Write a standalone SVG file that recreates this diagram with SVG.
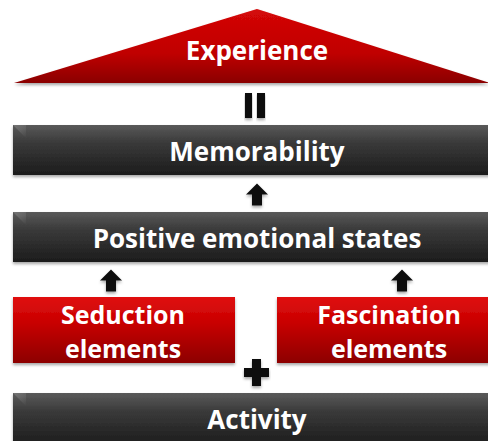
<svg xmlns="http://www.w3.org/2000/svg" width="488" height="441" viewBox="0 0 488 441">
  <defs>
    <linearGradient id="dark" x1="0" y1="0" x2="0" y2="1">
      <stop offset="0" stop-color="#5a5a5a"/>
      <stop offset="0.35" stop-color="#3a3a3a"/>
      <stop offset="1" stop-color="#1c1c1c"/>
    </linearGradient>
    <linearGradient id="red" x1="0" y1="0" x2="0" y2="1">
      <stop offset="0" stop-color="#e01010"/>
      <stop offset="0.4" stop-color="#c80000"/>
      <stop offset="1" stop-color="#8c0000"/>
    </linearGradient>
    <linearGradient id="roof" x1="0" y1="0" x2="0" y2="1">
      <stop offset="0" stop-color="#d40808"/>
      <stop offset="0.6" stop-color="#c00000"/>
      <stop offset="1" stop-color="#8a0000"/>
    </linearGradient>
    <linearGradient id="bevelGrad" x1="0" y1="0" x2="1" y2="1">
      <stop offset="0" stop-color="#8a8a8a" stop-opacity="0.6"/>
      <stop offset="1" stop-color="#8a8a8a" stop-opacity="0"/>
    </linearGradient>
    <filter id="shadow" x="-5%" y="-10%" width="110%" height="130%">
      <feDropShadow dx="0" dy="2" stdDeviation="1.5" flood-color="#000" flood-opacity="0.35"/>
    </filter>
    <path id="up" d="M0,-11 L11,0 L5,0 L5,11 L-5,11 L-5,0 L-11,0 Z"/>
  </defs>
  <style>
    .lbl { font-family: "Open Sans", "DejaVu Sans", sans-serif; font-weight: bold; fill: #ffffff; text-anchor: middle; font-size: 26px; }
    .lbl2 { font-size: 25px; }
    .box-dark { fill: url(#dark); filter: url(#shadow); }
    .box-red { fill: url(#red); filter: url(#shadow); }
    .bevel { fill: url(#bevelGrad); }
    .sym { fill: #111111; filter: url(#shadow); }
  </style>

  <g id="experience">
    <polygon points="14,83 257,9 490,83" fill="url(#roof)" filter="url(#shadow)"/>
    <text class="lbl" x="257" y="60" font-size="27">Experience</text>
  </g>

  <g id="memorability">
    <rect class="box-dark" x="13" y="125" width="480" height="50"/>
    <polygon class="bevel" points="13,125 26,125 26,138"/>
    <text class="lbl" x="257" y="161">Memorability</text>
  </g>

  <g id="positive-emotional-states">
    <rect class="box-dark" x="13" y="212" width="480" height="50"/>
    <polygon class="bevel" points="13,212 26,212 26,225"/>
    <text class="lbl" x="257" y="248">Positive emotional states</text>
  </g>

  <g id="seduction-elements">
    <rect class="box-red" x="13" y="297" width="222" height="66"/>
    <text class="lbl lbl2" x="123" y="324">Seduction</text>
    <text class="lbl lbl2" x="123" y="358">elements</text>
  </g>

  <g id="fascination-elements">
    <rect class="box-red" x="277" y="297" width="216" height="66"/>
    <text class="lbl lbl2" x="389" y="324">Fascination</text>
    <text class="lbl lbl2" x="389" y="358">elements</text>
  </g>

  <g id="activity">
    <rect class="box-dark" x="13" y="393" width="480" height="52"/>
    <polygon class="bevel" points="13,393 26,393 26,406"/>
    <text class="lbl" x="257" y="429">Activity</text>
  </g>

  <g id="connectors">
    <!-- equals sign between roof and memorability -->
    <rect class="sym" x="245" y="93" width="7" height="25"/>
    <rect class="sym" x="257" y="93" width="8" height="25"/>
    <!-- upward arrows -->
    <use class="sym" href="#up" transform="translate(257,194.5)"/>
    <use class="sym" href="#up" transform="translate(111,280.5)"/>
    <use class="sym" href="#up" transform="translate(402,280.5)"/>
    <!-- plus sign between element boxes and activity -->
    <path class="sym" d="M252,359 H261 V368 H269 V377 H261 V386 H252 V377 H244 V368 H252 Z"/>
  </g>
</svg>
